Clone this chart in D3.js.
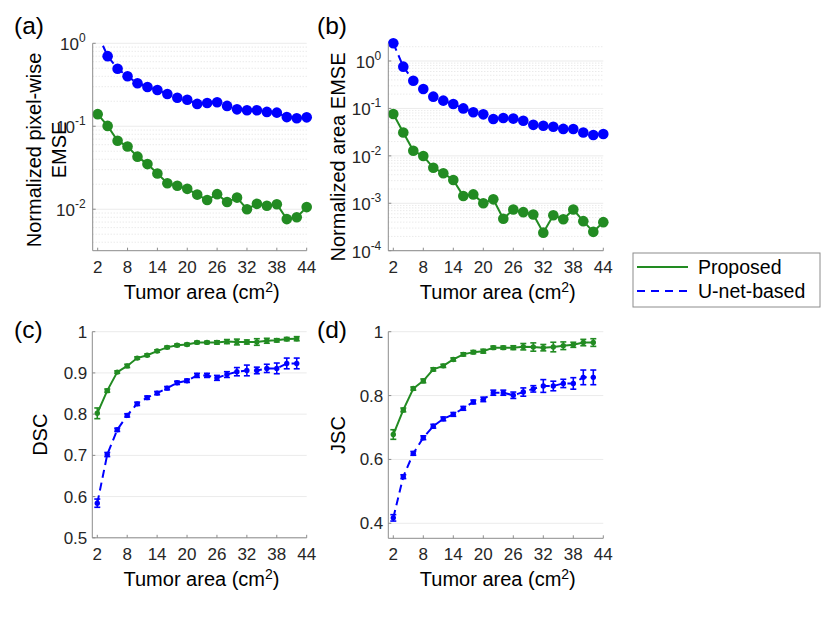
<!DOCTYPE html>
<html><head><meta charset="utf-8">
<script src="https://cdn.jsdelivr.net/npm/d3@7/dist/d3.min.js"></script>
<style>body{margin:0;background:#fff}svg{display:block;font-family:"Liberation Sans",Arial,Helvetica,sans-serif}</style>
</head><body><svg id="c" width="830" height="623"></svg>
<script>
// ---------- data ----------
const areasFull = [2,4,6,8,10,12,14,16,18,20,22,24,26,28,30,32,34,36,38,40,42,44];
const areasShort = [2,4,6,8,10,12,14,16,18,20,22,24,26,28,30,32,34,36,38,40,42];
const xTickValues = [2,8,14,20,26,32,38,44];

const pixelEmseProposed = [0.140,0.101,0.067,0.057,0.043,0.035,0.027,0.0206,0.0192,0.0176,0.0150,0.0129,0.0152,0.0122,0.0138,0.0100,0.0116,0.0110,0.0115,0.0076,0.0080,0.0106];
const pixelEmseUnet = [1.30,0.70,0.494,0.40,0.33,0.297,0.274,0.245,0.221,0.209,0.186,0.191,0.195,0.176,0.160,0.156,0.156,0.149,0.146,0.129,0.125,0.128];

const areaEmseProposed = [0.076,0.031,0.0128,0.0099,0.0056,0.0043,0.0031,0.00142,0.00154,0.0010,0.00121,0.00047,0.00074,0.00065,0.00058,0.00024,0.00056,0.00046,0.00074,0.00042,0.00025,0.00040];
const areaEmseUnet = [2.36,0.76,0.384,0.257,0.177,0.146,0.124,0.100,0.083,0.075,0.060,0.063,0.061,0.055,0.045,0.043,0.041,0.037,0.0367,0.031,0.0275,0.0288];

const dscProposed = [0.802,0.857,0.902,0.917,0.936,0.943,0.953,0.962,0.967,0.969,0.974,0.974,0.974,0.976,0.975,0.975,0.975,0.978,0.979,0.982,0.983];
const dscProposedErr = [0.013,0.004,0.003,0.004,0.003,0.003,0.003,0.003,0.003,0.003,0.003,0.003,0.004,0.005,0.007,0.005,0.008,0.006,0.004,0.004,0.005];
const dscUnet = [0.584,0.702,0.762,0.797,0.825,0.840,0.851,0.863,0.876,0.881,0.894,0.894,0.888,0.896,0.903,0.906,0.906,0.911,0.911,0.923,0.923];
const dscUnetErr = [0.010,0.005,0.004,0.004,0.004,0.004,0.004,0.004,0.004,0.004,0.005,0.005,0.006,0.007,0.010,0.013,0.008,0.010,0.013,0.013,0.013];

const jscProposed = [0.678,0.755,0.822,0.846,0.882,0.893,0.913,0.929,0.936,0.939,0.950,0.950,0.950,0.953,0.952,0.950,0.952,0.956,0.959,0.966,0.966];
const jscProposedErr = [0.015,0.006,0.005,0.006,0.005,0.005,0.005,0.005,0.005,0.006,0.005,0.005,0.006,0.010,0.013,0.010,0.015,0.012,0.008,0.010,0.012];
const jscUnet = [0.417,0.546,0.619,0.668,0.704,0.727,0.741,0.760,0.780,0.788,0.809,0.809,0.801,0.811,0.821,0.830,0.830,0.838,0.838,0.857,0.857];
const jscUnetErr = [0.010,0.006,0.006,0.006,0.006,0.006,0.006,0.006,0.006,0.007,0.008,0.008,0.010,0.013,0.010,0.020,0.015,0.013,0.018,0.023,0.023];

const seriesNames = ["Proposed","U-net-based"];
const colorProposed = "#228B22", colorUnet = "#0000FF";

// ---------- drawing ----------
const svg = d3.select("#c");
const tickColor = "#262626", axisColor = "#8c8c8c";
const tickFont = 17;
let clipId = 0;

function logLabel(g, v, x, y){
  const e = Math.round(Math.log10(v));
  const t = g.append("text").attr("x", x).attr("y", y).attr("text-anchor","end")
    .attr("font-size",tickFont).attr("fill",tickColor);
  t.append("tspan").text("10");
  t.append("tspan").attr("dy",-8).attr("font-size",12).text(String(e));
}

function panel(cfg){
  const g = svg.append("g");
  const x = d3.scaleLinear().domain([1,44]).range([cfg.left, cfg.right]);
  const y = (cfg.log ? d3.scaleLog() : d3.scaleLinear()).domain(cfg.yDomain).range([cfg.bottom, cfg.top]);
  if (cfg.log){
    const [lo, hi] = cfg.yDomain;
    const minor = [];
    for (let e = Math.floor(Math.log10(lo)); e <= Math.ceil(Math.log10(hi)); e++)
      for (let k = 2; k <= 9; k++){ const v = k*Math.pow(10,e); if (v>=lo && v<=hi) minor.push(v); }
    g.selectAll(".mg").data(minor).join("line")
      .attr("x1",cfg.left).attr("x2",cfg.right).attr("y1",d=>y(d)).attr("y2",d=>y(d))
      .attr("stroke","#d9d9d9").attr("stroke-width",0.8).attr("stroke-dasharray","1,2");
  }
  g.selectAll(".gl").data(cfg.yTicks).join("line")
    .attr("x1",cfg.left).attr("x2",cfg.right).attr("y1",d=>y(d)).attr("y2",d=>y(d))
    .attr("stroke","#ebebeb").attr("stroke-width",1);

  const id = "clip"+(clipId++);
  svg.append("clipPath").attr("id",id).append("rect")
    .attr("x",cfg.left).attr("y",cfg.top).attr("width",cfg.right-cfg.left).attr("height",cfg.bottom-cfg.top);

  const line = d3.line().x(d=>x(d[0])).y(d=>y(d[1]));
  cfg.series.forEach(s=>{
    const pts = s.xs.map((a,i)=>[a, s.values[i], s.err ? s.err[i] : 0]);
    g.append("path").datum(pts).attr("d",line).attr("fill","none")
      .attr("stroke",s.color).attr("stroke-width",2)
      .attr("stroke-dasharray", s.dashed ? "8,5" : null)
      .attr("clip-path","url(#"+id+")");
    if (s.err){
      const eb = g.append("g").attr("stroke",s.color).attr("stroke-width",1.6);
      pts.forEach(p=>{
        const x0 = x(p[0]), y1 = y(p[1]-p[2]), y2 = y(p[1]+p[2]);
        eb.append("line").attr("x1",x0).attr("x2",x0).attr("y1",y1).attr("y2",y2);
        eb.append("line").attr("x1",x0-3).attr("x2",x0+3).attr("y1",y1).attr("y2",y1);
        eb.append("line").attr("x1",x0-3).attr("x2",x0+3).attr("y1",y2).attr("y2",y2);
      });
    }
    const vis = pts.filter(p => p[1] <= cfg.yDomain[1]*1.0001 && p[1] >= cfg.yDomain[0]);
    g.selectAll(null).data(vis).join("circle")
      .attr("cx",d=>x(d[0])).attr("cy",d=>y(d[1])).attr("r",cfg.markerR).attr("fill",s.color);
  });

  g.append("line").attr("x1",cfg.left).attr("x2",cfg.left).attr("y1",cfg.top).attr("y2",cfg.bottom).attr("stroke",axisColor);
  g.append("line").attr("x1",cfg.left).attr("x2",cfg.right).attr("y1",cfg.bottom).attr("y2",cfg.bottom).attr("stroke",axisColor);
  xTickValues.forEach(v=>{
    g.append("line").attr("x1",x(v)).attr("x2",x(v)).attr("y1",cfg.bottom).attr("y2",cfg.bottom-3).attr("stroke",axisColor);
    g.append("text").attr("x",x(v)).attr("y",cfg.bottom+22).attr("text-anchor","middle")
      .attr("font-size",tickFont).attr("fill",tickColor).text(v);
  });
  cfg.yTicks.forEach(v=>{
    g.append("line").attr("x1",cfg.left).attr("x2",cfg.left+3).attr("y1",y(v)).attr("y2",y(v)).attr("stroke",axisColor);
    if (cfg.log) logLabel(g, v, cfg.left-7, y(v)+7);
    else g.append("text").attr("x",cfg.left-5).attr("y",y(v)+6).attr("text-anchor","end")
      .attr("font-size",tickFont).attr("fill",tickColor).text(d3.format("~g")(v));
  });
  const xl = g.append("text").attr("x",(cfg.left+cfg.right)/2+2).attr("y",cfg.bottom+48)
    .attr("text-anchor","middle").attr("font-size",20).attr("fill","#000");
  xl.append("tspan").text("Tumor area (cm");
  xl.append("tspan").attr("dy",-7).attr("font-size",14).text("2");
  xl.append("tspan").attr("dy",7).text(")");
  const cy = (cfg.top+cfg.bottom)/2 + (cfg.yLabelShift||0);
  cfg.yLabel.forEach((t,i)=>{
    g.append("text").attr("transform",`translate(${cfg.yLabelX[i]},${cy}) rotate(-90)`)
      .attr("text-anchor","middle").attr("font-size",20).attr("fill","#000").text(t);
  });
  g.append("text").attr("x",cfg.letterX).attr("y",cfg.letterY).attr("font-size",24.5).attr("fill","#000").text(cfg.letter);
}

panel({letter:"(a)", letterX:14, letterY:34, left:92.7, right:306.7, top:43.3, bottom:250.7, log:true,
  yDomain:[Math.pow(10,-2.5),1], yTicks:[1e-2,1e-1,1], markerR:5.3,
  yLabel:["Normalized pixel-wise","EMSE"], yLabelX:[41,66], yLabelShift:3,
  series:[{xs:areasFull, values:pixelEmseProposed, color:colorProposed},
          {xs:areasFull, values:pixelEmseUnet, color:colorUnet, dashed:true}]});
panel({letter:"(b)", letterX:317, letterY:34, left:388.3, right:603.3, top:43.3, bottom:250.7, log:true,
  yDomain:[1e-4,Math.pow(10,0.373)], yTicks:[1e-4,1e-3,1e-2,1e-1,1], markerR:5.3,
  yLabel:["Normalized area EMSE"], yLabelX:[345], yLabelShift:10,
  series:[{xs:areasFull, values:areaEmseProposed, color:colorProposed},
          {xs:areasFull, values:areaEmseUnet, color:colorUnet, dashed:true}]});
panel({letter:"(c)", letterX:14, letterY:338, left:92.3, right:306.7, top:331.7, bottom:537.8, log:false,
  yDomain:[0.5,1], yTicks:[0.5,0.6,0.7,0.8,0.9,1], markerR:2.7,
  yLabel:["DSC"], yLabelX:[46.5],
  series:[{xs:areasShort, values:dscProposed, err:dscProposedErr, color:colorProposed},
          {xs:areasShort, values:dscUnet, err:dscUnetErr, color:colorUnet, dashed:true}]});
panel({letter:"(d)", letterX:317, letterY:338, left:388.3, right:603.3, top:331.7, bottom:538.3, log:false,
  yDomain:[0.353,1], yTicks:[0.4,0.6,0.8,1], markerR:2.7,
  yLabel:["JSC"], yLabelX:[345],
  series:[{xs:areasShort, values:jscProposed, err:jscProposedErr, color:colorProposed},
          {xs:areasShort, values:jscUnet, err:jscUnetErr, color:colorUnet, dashed:true}]});

const lg = svg.append("g");
lg.append("rect").attr("x",633).attr("y",253).attr("width",187).attr("height",54)
  .attr("fill","#fff").attr("stroke","#8c8c8c").attr("stroke-width",1);
[[colorProposed,false],[colorUnet,true]].forEach((c,i)=>{
  const yy = 267 + i*24;
  lg.append("line").attr("x1",637).attr("x2",688).attr("y1",yy).attr("y2",yy)
    .attr("stroke",c[0]).attr("stroke-width",2).attr("stroke-dasharray",c[1]?"8,6":null);
  lg.append("text").attr("x",698).attr("y",yy+7).attr("font-size",19.5).attr("fill","#000").text(seriesNames[i]);
});
</script></body></html>
